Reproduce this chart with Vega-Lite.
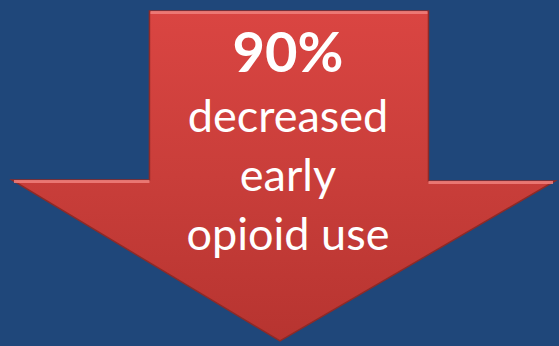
{
  "$schema": "https://vega.github.io/schema/vega-lite/v6.json",
  "width": 559,
  "height": 346,
  "padding": 0,
  "autosize": {"type": "fit", "contains": "padding"},
  "background": "#1F477A",
  "config": {"view": {"stroke": null}},
  "datasets": {
    "arrow": [
      {"i": 1, "x": 150, "y": 11},
      {"i": 2, "x": 430, "y": 11},
      {"i": 3, "x": 430, "y": 181},
      {"i": 4, "x": 557, "y": 181},
      {"i": 5, "x": 281, "y": 341},
      {"i": 6, "x": 12, "y": 180},
      {"i": 7, "x": 150, "y": 180},
      {"i": 8, "x": 150, "y": 11}
    ],
    "highlight": [
      {"seg": "a", "i": 1, "x": 151, "y": 12.5},
      {"seg": "a", "i": 2, "x": 429, "y": 12.5},
      {"seg": "b", "i": 1, "x": 14, "y": 181.5},
      {"seg": "b", "i": 2, "x": 150, "y": 181.5},
      {"seg": "c", "i": 1, "x": 430, "y": 182.5},
      {"seg": "c", "i": 2, "x": 555, "y": 182.5}
    ],
    "title": [{"t": "90%", "x": 289, "y": 72}],
    "lines": [
      {"t": "decreased", "x": 289, "y": 132},
      {"t": "early", "x": 289, "y": 191},
      {"t": "opioid use", "x": 289, "y": 250}
    ]
  },
  "encoding": {
    "x": {"field": "x", "type": "quantitative", "scale": {"domain": [0, 559], "nice": false, "zero": false}, "axis": null},
    "y": {"field": "y", "type": "quantitative", "scale": {"domain": [346, 0], "nice": false, "zero": false}, "axis": null}
  },
  "layer": [
    {
      "data": {"name": "arrow"},
      "mark": {
        "type": "line",
        "interpolate": "linear-closed",
        "fill": {"gradient": "linear", "x1": 0, "y1": 0, "x2": 0, "y2": 1,
          "stops": [{"offset": 0, "color": "#DA4542"}, {"offset": 0.5, "color": "#C93E3A"}, {"offset": 1, "color": "#B73430"}]},
        "stroke": "#8E2A27",
        "strokeWidth": 1.5,
        "strokeJoin": "miter"
      },
      "encoding": {"order": {"field": "i", "type": "quantitative"}}
    },
    {
      "data": {"name": "highlight"},
      "mark": {"type": "line", "stroke": "#F0807C", "strokeWidth": 3, "opacity": 0.85},
      "encoding": {
        "detail": {"field": "seg"},
        "order": {"field": "i", "type": "quantitative"}
      }
    },
    {
      "data": {"name": "title"},
      "mark": {"type": "text", "font": "Lato", "fontWeight": "bold", "fontSize": 56, "color": "white", "align": "center", "baseline": "alphabetic"},
      "encoding": {"text": {"field": "t"}}
    },
    {
      "data": {"name": "lines"},
      "mark": {"type": "text", "font": "Lato", "fontSize": 45, "color": "white", "align": "center", "baseline": "alphabetic"},
      "encoding": {"text": {"field": "t"}}
    }
  ]
}
